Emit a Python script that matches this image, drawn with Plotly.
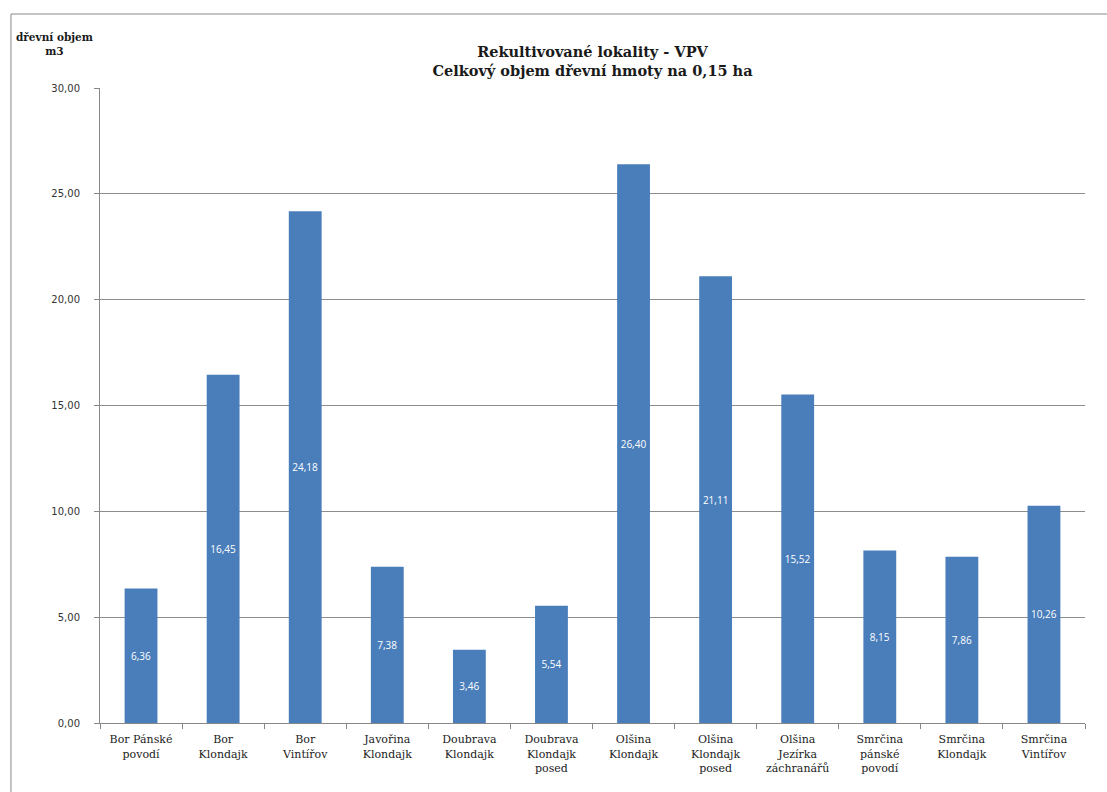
import plotly.graph_objects as go

categories = [
    "Bor Pánské<br>povodí", "Bor<br>Klondajk", "Bor<br>Vintířov", "Javořina<br>Klondajk",
    "Doubrava<br>Klondajk", "Doubrava<br>Klondajk<br>posed", "Olšina<br>Klondajk",
    "Olšina<br>Klondajk<br>posed", "Olšina<br>Jezírka<br>záchranářů", "Smrčina<br>pánské<br>povodí",
    "Smrčina<br>Klondajk", "Smrčina<br>Vintířov",
]
volumes = [6.36, 16.45, 24.18, 7.38, 3.46, 5.54, 26.40, 21.11, 15.52, 8.15, 7.86, 10.26]
y_ticks = [0, 5, 10, 15, 20, 25, 30]

labels = [f"{v:.2f}".replace(".", ",") for v in volumes]
SERIF = "DejaVu Serif"

fig = go.Figure(go.Bar(
    x=categories, y=volumes,
    marker=dict(color="#4a7ebb", line=dict(width=0)),
    text=labels, textposition="inside", insidetextanchor="middle",
    textfont=dict(color="white", size=10, family="Open Sans"),
    textangle=0,
))

fig.update_layout(
    width=1107, height=792,
    margin=dict(l=100, r=22, t=88, b=69),
    paper_bgcolor="white", plot_bgcolor="white",
    bargap=0.6,
    showlegend=False,
    title=dict(
        text="<b>Rekultivované lokality - VPV<br>Celkový objem dřevní hmoty na 0,15 ha</b>",
        x=0.5, xref="paper", xanchor="center",
        y=0.928, yref="container", yanchor="middle",
        font=dict(family=SERIF, size=14.5, color="#1a1a1a"),
    ),
    xaxis=dict(
        showline=True, linecolor="#888888", linewidth=1,
        ticks="outside", tickcolor="#888888", ticklen=5,
        tickson="boundaries", ticklabelstandoff=6,
        tickfont=dict(family=SERIF, size=11, color="#222222"),
        tickangle=0,
    ),
    yaxis=dict(
        range=[0, 30], tickvals=y_ticks,
        ticktext=[f"{v:.2f}".replace(".", ",") for v in y_ticks],
        showgrid=True, gridcolor="#8c8c8c", gridwidth=1,
        showline=True, linecolor="#888888", linewidth=1,
        ticks="outside", tickcolor="#888888", ticklen=5,
        ticklabelstandoff=12,
        tickfont=dict(family="DejaVu Sans", size=10, color="#333333"),
        zeroline=False,
    ),
    annotations=[dict(
        text="<b>dřevní objem<br>m3</b>",
        x=-0.046, xref="paper", y=1.07, yref="paper",
        xanchor="center", yanchor="middle", showarrow=False,
        font=dict(family=SERIF, size=10.5, color="#1a1a1a"),
    )],
    shapes=[dict(
        type="rect", xref="paper", yref="paper",
        x0=-0.0904, x1=1.1, y0=-0.2, y1=1.1165,
        line=dict(color="#8a8a8a", width=1), fillcolor="rgba(0,0,0,0)",
        layer="below",
    )],
)

fig.write_html("out.html")
